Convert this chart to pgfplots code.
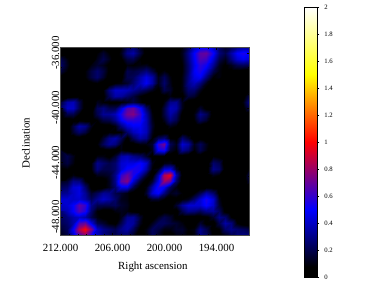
\documentclass[border=0pt]{standalone}
\usepackage{fontspec}
\setmainfont{Liberation Serif}
\usepackage{pgfplots}
\pgfplotsset{compat=1.18}
\pgfplotsset{colormap={hot2}{rgb255(0cm)=(0,0,0) rgb255(0.15cm)=(0,0,0) rgb255(1cm)=(0,0,255) rgb255(2cm)=(255,0,0) rgb255(3cm)=(255,255,0) rgb255(4cm)=(255,255,255)}}
\begin{document}
\begin{tikzpicture}[x=1pt,y=1pt]
\useasboundingbox (0,0) rectangle (374,285);
\begin{axis}[
  at={(60.5pt,49.5pt)}, anchor=south west, scale only axis,
  width=188.5pt, height=188.5pt,
  axis on top=true,
  x dir=reverse,
  xmin=190.25, xmax=212, ymin=-49.35, ymax=-35.56,
  colormap name=hot2, point meta min=0, point meta max=2,
  xtick={212,206,200,194}, xticklabels={212.000,206.000,200.000,194.000},
  ytick={-48,-44,-40,-36}, yticklabels={-48.000,-44.000,-40.000,-36.000},
  minor x tick num=5, minor y tick num=3,
  major tick length=2.5pt, minor tick length=1.5pt,
  tick align=inside,
  axis line style={line width=0.3pt,draw=black!70},
  tick style={line width=0.3pt,black},
  tick label style={font=\fontsize{10.9}{12}\selectfont},
  label style={font=\fontsize{10.9}{12}\selectfont},
  yticklabel style={rotate=90,anchor=south,inner sep=1pt},
  xticklabel style={yshift=-5pt},
  xlabel={Right ascension}, ylabel={Declination},
  xlabel style={at={(axis description cs:0.49,-0.167)},anchor=center},
  ylabel style={at={(axis description cs:-0.183,0.49)},anchor=center},
  colorbar,
  colorbar style={
    at={(1.2918,-0.2202)}, anchor=south west,
    width=13.3pt, height=270pt,
    ytick={0,0.2,...,2},
    yticklabels={0,0.2,0.4,0.6,0.8,1,1.2,1.4,1.6,1.8,2},
    major tick length=2pt, tick align=outside, ytick pos=right,
    tick style={line width=0.3pt,black},
    axis line style={line width=0.3pt,black},
    yticklabel style={font=\fontsize{6.7}{8}\selectfont,rotate=0,anchor=west,xshift=1.5pt},
    ylabel={},
  },
]
\addplot[surf, shader=interp, mesh/rows=32, mesh/cols=32, point meta=explicit]
 table[row sep=\\, header=false,
   x expr={212-mod(\coordindex,32)*0.70161},
   y expr={-35.56-floor(\coordindex/32)*0.44484},
   meta expr={\thisrowno{0}}] {
0\\0\\0\\0\\0\\0\\0\\.05\\ 0\\0\\.08\\.22\\.25\\.12\\.02\\0\\ 0\\0\\0\\.02\\.1\\.22\\.37\\.47\\ .5\\.38\\.22\\.14\\.2\\.28\\.32\\.3\\
0\\0\\0\\0\\0\\0\\.08\\.15\\ .08\\0\\.12\\.3\\.35\\.18\\.03\\0\\ 0\\0\\0\\.03\\.12\\.3\\.5\\.68\\ .7\\.52\\.28\\.2\\.35\\.5\\.55\\.5\\
.2\\.1\\0\\0\\0\\0\\.12\\.2\\ .12\\0\\.06\\.18\\.2\\.08\\0\\0\\ 0\\0\\0\\.02\\.1\\.28\\.48\\.65\\ .62\\.42\\.2\\.12\\.28\\.42\\.47\\.42\\
.25\\.12\\0\\0\\0\\.1\\.15\\.12\\ .05\\0\\0\\.1\\.08\\.1\\.12\\.05\\ 0\\0\\0\\0\\.08\\.25\\.45\\.58\\ .52\\.32\\.12\\.06\\.12\\.2\\.22\\.2\\
.18\\.08\\0\\0\\.08\\.18\\.25\\.18\\ .06\\0\\0\\.2\\.18\\.22\\.28\\.18\\ .05\\.1\\.03\\0\\.08\\.25\\.48\\.55\\ .42\\.2\\.1\\.05\\.05\\.05\\.03\\0\\
.05\\0\\0\\0\\.08\\.18\\.25\\.15\\ .03\\0\\.05\\.2\\.22\\.35\\.45\\.35\\ .12\\.22\\.1\\0\\.1\\.28\\.45\\.48\\ .28\\.08\\.1\\.03\\0\\0\\0\\0\\
0\\0\\0\\0\\0\\.05\\.08\\.03\\ 0\\.08\\.1\\.15\\.25\\.38\\.48\\.35\\ .12\\.25\\.12\\0\\.1\\.3\\.38\\.28\\ .12\\.03\\0\\0\\0\\0\\0\\0\\
0\\0\\0\\0\\0\\0\\0\\.08\\ .28\\.4\\.4\\.38\\.32\\.25\\.2\\.12\\ .05\\.2\\.15\\.02\\.1\\.25\\.25\\.12\\ .03\\0\\0\\0\\0\\0\\0\\.05\\
0\\0\\.03\\.03\\0\\0\\.03\\.05\\ .22\\.35\\.33\\.25\\.18\\.08\\.02\\0\\ 0\\.05\\.1\\.05\\.05\\.18\\.15\\.05\\ 0\\0\\0\\0\\0\\0\\.03\\.2\\
.15\\.35\\.38\\.2\\.03\\0\\.12\\.08\\ .05\\.05\\.08\\.12\\.18\\.1\\.02\\0\\ 0\\.1\\.3\\.32\\.12\\.02\\0\\.03\\ 0\\0\\0\\0\\0\\0\\.1\\.3\\
.2\\.4\\.4\\.2\\.03\\0\\.22\\.28\\ .2\\.2\\.42\\.65\\.7\\.52\\.25\\.05\\ 0\\.18\\.38\\.35\\.12\\0\\.05\\.15\\ .05\\0\\0\\0\\0\\0\\.05\\.2\\
.08\\.2\\.2\\.08\\0\\.05\\.2\\.32\\ .32\\.38\\.55\\.72\\.75\\.6\\.35\\.1\\ 0\\.18\\.35\\.25\\.05\\0\\.1\\.3\\ .22\\.03\\0\\0\\0\\0\\0\\0\\
0\\.02\\.05\\.05\\.03\\.02\\.08\\.18\\ .2\\.3\\.48\\.58\\.58\\.55\\.38\\.12\\ 0\\.12\\.28\\.2\\.03\\0\\.08\\.22\\ .15\\0\\0\\0\\0\\0\\0\\0\\
0\\0\\.18\\.35\\.3\\.12\\0\\.03\\ .03\\.1\\.28\\.42\\.48\\.48\\.38\\.15\\ 0\\.03\\.12\\.08\\0\\0\\0\\.03\\ 0\\0\\0\\0\\0\\0\\0\\0\\
0\\0\\.15\\.25\\.18\\.05\\0\\.05\\ .08\\.05\\.08\\.25\\.38\\.45\\.38\\.12\\ 0\\.03\\0\\0\\.03\\0\\0\\0\\ 0\\0\\0\\0\\0\\0\\0\\0\\
0\\0\\0\\.03\\0\\0\\.02\\.15\\ .3\\.35\\.22\\.05\\.22\\.35\\.3\\.08\\ .22\\.28\\.08\\.05\\.25\\.15\\0\\.05\\ 0\\0\\0\\0\\0\\0\\0\\0\\
0\\0\\0\\0\\0\\0\\.08\\.22\\ .32\\.28\\.12\\0\\.03\\.1\\.1\\.15\\ .6\\.72\\.22\\.12\\.42\\.35\\.12\\.22\\ .12\\0\\0\\0\\0\\0\\0\\0\\
0\\0\\0\\0\\0\\0\\0\\.03\\ .05\\.02\\.1\\.05\\0\\0\\.03\\.12\\ .5\\.55\\.15\\.08\\.32\\.25\\.08\\.2\\ .1\\0\\0\\0\\0\\0\\0\\0\\
.12\\.2\\.12\\0\\0\\0\\.1\\.1\\ .05\\.15\\.35\\.38\\.3\\.25\\.15\\.03\\ .05\\.05\\.03\\0\\.03\\0\\0\\.03\\ 0\\.08\\.05\\0\\0\\0\\0\\0\\
.12\\.18\\.1\\0\\0\\.08\\.3\\.25\\ .2\\.25\\.42\\.45\\.45\\.52\\.42\\.12\\ 0\\.1\\.12\\.03\\0\\0\\0\\0\\ 0\\.25\\.2\\0\\0\\0\\0\\0\\
.05\\.08\\.05\\0\\0\\.08\\.28\\.2\\ .2\\.25\\.42\\.52\\.55\\.52\\.35\\.08\\ .12\\.42\\.45\\.15\\0\\0\\0\\0\\ 0\\.3\\.25\\.03\\0\\0\\0\\.1\\
0\\.03\\.1\\.05\\0\\0\\.12\\.12\\ .15\\.3\\.6\\.7\\.55\\.35\\.15\\.03\\ .35\\.85\\.95\\.35\\.05\\0\\0\\0\\ 0\\.12\\.08\\0\\0\\0\\0\\.2\\
0\\.15\\.3\\.28\\.1\\0\\0\\.03\\ .12\\.3\\.68\\.75\\.42\\.15\\.03\\.15\\ .45\\.8\\.7\\.25\\.03\\0\\0\\0\\ 0\\0\\0\\0\\0\\0\\0\\.15\\
.12\\.25\\.42\\.45\\.25\\.05\\.02\\.05\\ .12\\.25\\.45\\.45\\.2\\.05\\.1\\.35\\ .55\\.48\\.22\\.1\\.02\\0\\0\\.03\\ .05\\.03\\0\\0\\0\\0\\0\\0\\
.3\\.32\\.4\\.45\\.32\\.15\\.22\\.32\\ .3\\.2\\.15\\.1\\.03\\0\\.15\\.42\\ .5\\.28\\.12\\.15\\.08\\.03\\.08\\.2\\ .35\\.25\\.05\\0\\0\\0\\0\\0\\
.42\\.42\\.4\\.42\\.35\\.22\\.32\\.4\\ .35\\.25\\.12\\.1\\.02\\0\\.03\\.15\\ .15\\.08\\.03\\.05\\.08\\.12\\.25\\.42\\ .55\\.42\\.12\\0\\0\\0\\0\\0\\
.42\\.42\\.5\\.68\\.6\\.3\\.2\\.2\\ .2\\.22\\.15\\.12\\.03\\0\\0\\0\\ 0\\0\\.03\\.15\\.32\\.42\\.42\\.42\\ .52\\.4\\.15\\.02\\0\\0\\0\\0\\
.35\\.38\\.5\\.65\\.55\\.25\\.08\\.03\\ .03\\.1\\.12\\.1\\.05\\.02\\0\\0\\ .03\\.05\\.03\\.03\\.2\\.3\\.28\\.22\\ .3\\.32\\.22\\.05\\0\\0\\0\\0\\
.25\\.28\\.35\\.4\\.35\\.2\\.1\\.05\\ .03\\.03\\.12\\.3\\.32\\.15\\.02\\.02\\ .12\\.2\\.15\\.05\\.03\\.03\\.03\\.03\\ .05\\.15\\.3\\.25\\.08\\0\\0\\0\\
.2\\.25\\.35\\.65\\.7\\.45\\.2\\.15\\ .08\\.05\\.2\\.35\\.33\\.12\\.03\\.12\\ .22\\.22\\.18\\.15\\.1\\.03\\.03\\.15\\ .05\\.03\\.2\\.35\\.28\\.08\\.02\\0\\
.15\\.22\\.5\\.85\\1\\.75\\.4\\.3\\ .25\\.2\\.3\\.35\\.22\\.05\\.1\\.22\\ .18\\.1\\.1\\.15\\.15\\.08\\.1\\.3\\ .2\\.03\\.08\\.25\\.3\\.25\\.22\\.18\\
.1\\.18\\.4\\.6\\.72\\.5\\.38\\.28\\ .22\\.2\\.22\\.22\\.12\\.03\\.1\\.22\\ .12\\.05\\.03\\.1\\.12\\.05\\.1\\.3\\ .25\\.05\\.02\\.1\\.2\\.28\\.3\\.3\\
};
\addplot[surf, shader=interp, mesh/rows=3, mesh/cols=3, point meta=explicit]
 table[meta=v] {
x y v
212.70 -48.905 .15
212.00 -48.905 .15
211.30 -48.905 .22
212.70 -49.35 .1
212.00 -49.35 .1
211.30 -49.35 .18
212.70 -49.79 .1
212.00 -49.79 .1
211.30 -49.79 .18
};
\end{axis}
\end{tikzpicture}
\end{document}
